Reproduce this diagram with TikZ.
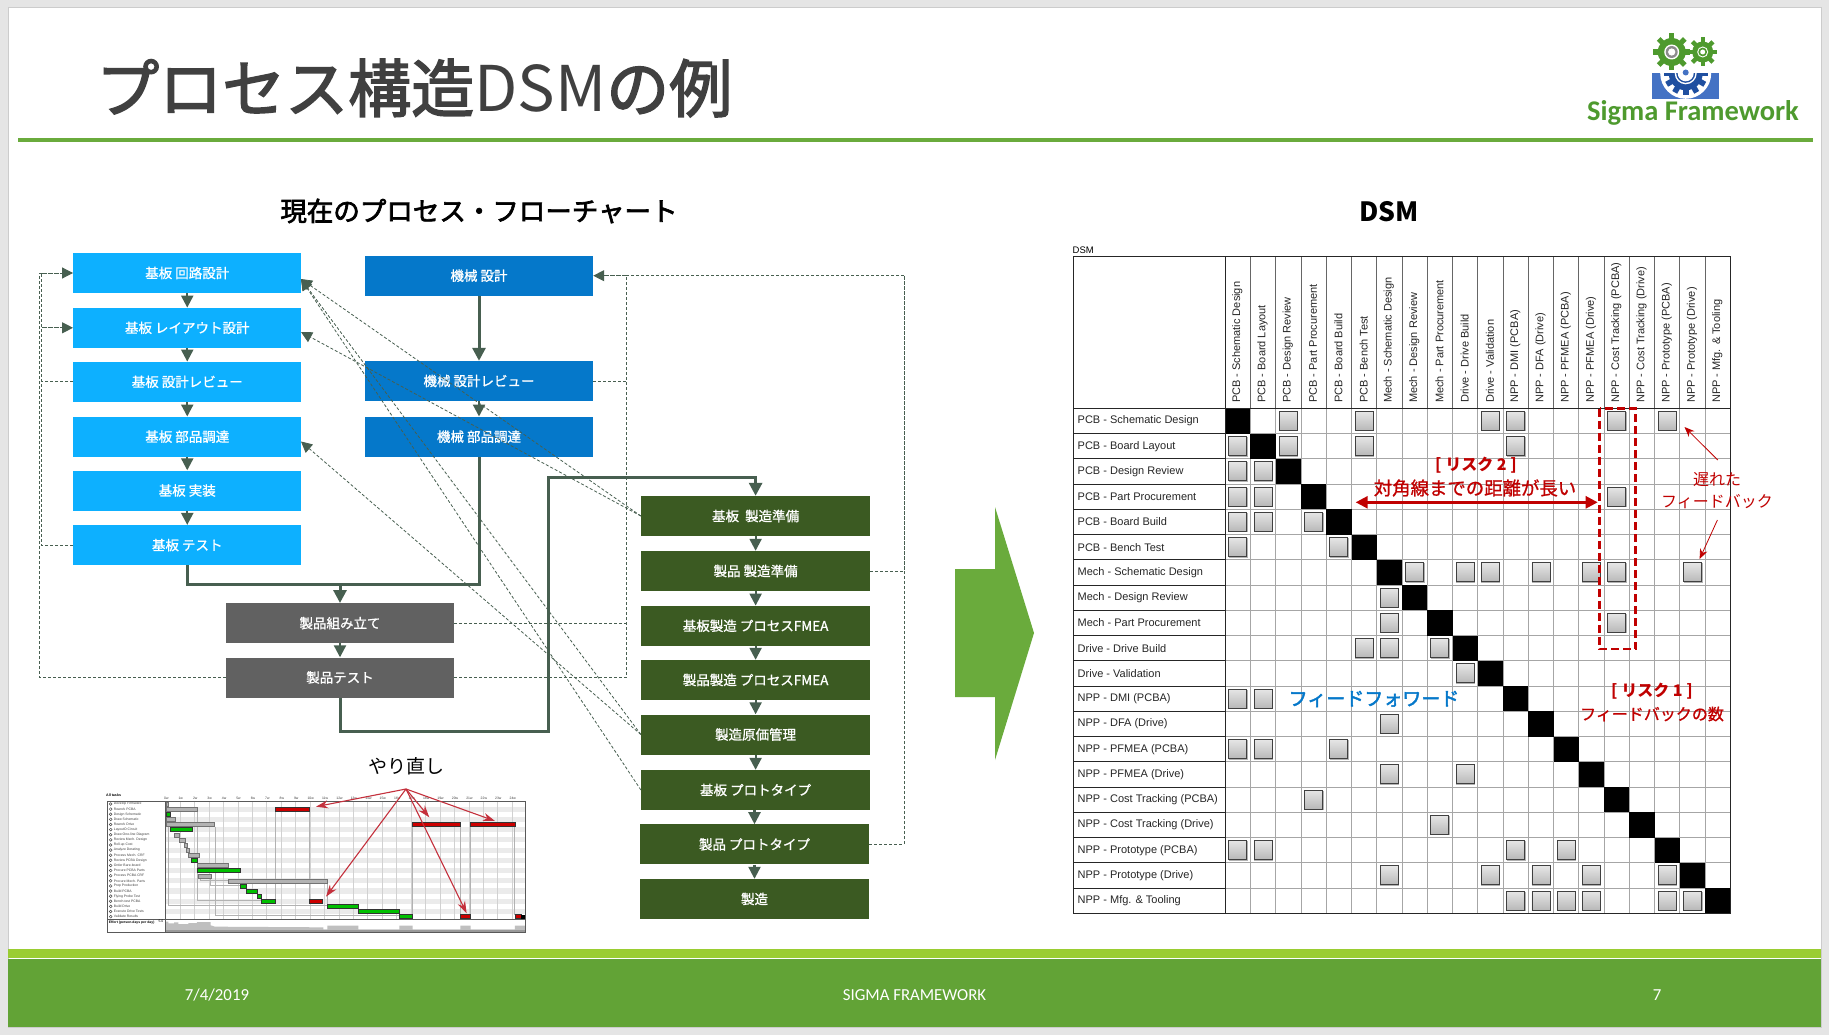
\documentclass[tikz,border=0pt]{standalone}
\usepackage{fontspec}
\setmainfont{Noto Sans CJK JP}
\newfontfamily\jpfb[FakeBold=2.5]{Noto Sans CJK JP}
\newfontfamily\jplb[FakeBold=1]{Noto Sans CJK JP}
\newfontfamily\lib{Liberation Sans}
\newfontfamily\car{Carlito}
\usetikzlibrary{arrows.meta,calc}
\definecolor{cPcb}{HTML}{0DB0FF}
\definecolor{cMech}{HTML}{0578CA}
\definecolor{cGray}{HTML}{616161}
\definecolor{cProd}{HTML}{3B5A22}
\definecolor{cConn}{HTML}{475F50}
\definecolor{cRed}{HTML}{C00000}
\definecolor{cRep}{HTML}{C4303C}
\definecolor{cBar}{HTML}{62A336}
\definecolor{cLime}{HTML}{9ACD32}
\definecolor{cRule}{HTML}{6AAB3C}
\definecolor{cLogo}{HTML}{4E9A2E}
\definecolor{cLogoB}{HTML}{4472C4}
\definecolor{cLogoD}{HTML}{1F4FA0}
\tikzset{
 flowbox/.style={rectangle,inner sep=0pt,minimum width=228pt,minimum height=40pt,text=white,font=\jplb\fontsize{13.5}{15}\selectfont},
 pcbbox/.style={flowbox,fill=cPcb},
 mechbox/.style={flowbox,fill=cMech},
 graybox/.style={flowbox,fill=cGray},
 prodbox/.style={flowbox,fill=cProd,minimum width=229pt},
 conn/.style={draw=cConn,line width=2.2pt,-{Triangle[length=12pt,width=12pt]}},
 thickline/.style={draw=cConn,line width=3pt},
 thickarrow/.style={draw=cConn,line width=3pt,-{Triangle[length=13pt,width=13pt]}},
 fb/.style={draw=cConn,line width=.8pt,dash pattern=on 3pt off 2pt},
 fbarrow/.style={fb,-{Triangle[length=11pt,width=11pt]}},
 fbhead/.style={draw=cConn,line width=1pt,dash pattern=on 5pt off 1pt,-{Triangle[length=11pt,width=11pt]}},
 rowlabel/.style={anchor=west,inner sep=0pt,font=\lib\fontsize{11}{12}\selectfont,text=black!85},
 collabel/.style={anchor=west,rotate=90,inner sep=0pt,font=\lib\fontsize{11}{12}\selectfont,text=black!85},
 redtext/.style={text=cRed,inner sep=0pt},
 redarrow/.style={draw=cRed,line width=.8pt,-{Stealth[length=10pt,width=8pt]}},
 redrep/.style={draw=cRep,line width=1.1pt,-{Stealth[length=12pt,width=8pt]}},
}
\newcommand{\mygear}[7]{%
 \fill[#7] (#1,#2) circle (#4pt);
 \foreach \a in {1,...,#6}{
  \fill[#7,shift={(#1,#2)},rotate=360*\a/#6] (-#5,0) rectangle (#5,#3);
 }}
\begin{document}
\begin{tikzpicture}[x=1pt,y=-1pt]
\useasboundingbox (0,0) rectangle (1829,1035);
\fill[black!10] (0,0) rectangle (1829,1035);
\fill[white,draw=black!20,line width=.8pt] (8,7) rectangle (1821,1027);
% footer
\fill[cLime] (8,949) rectangle (1821,958);
\fill[cBar] (8,959) rectangle (1821,1027);
\node[text=white,font=\car\fontsize{16.8}{18}\selectfont,inner sep=0pt] (fdate) at (217,995.5) {7/4/2019};
\node[text=white,font=\car\fontsize{16.8}{18}\selectfont,inner sep=0pt] (ftitle) at (914.5,995.5) {SIGMA FRAMEWORK};
\node[text=white,font=\car\fontsize{16.8}{18}\selectfont,inner sep=0pt] (fpage) at (1657,995.5) {7};
% title
\fill[cRule] (18,138.5) rectangle (1813,142.5);
\node[anchor=west,inner sep=0pt,text=black!75,font=\fontsize{63}{68}\selectfont] (title) at (96,88) {{\jpfb プロセス構造}DSM{\jpfb の例}};
% logo
\mygear{1671.7}{52}{18.5}{14}{2.6}{8}{cLogo}
\mygear{1702.7}{52}{14.5}{10.5}{2.2}{8}{cLogo}
\fill[white] (1671.7,52) circle (7.5pt); \fill[black!45] (1671.7,52) circle (6pt); \fill[white] (1671.7,52) circle (3.6pt);
\fill[white] (1702.7,52) circle (5.5pt); \fill[cLogo] (1702.7,52) circle (4.4pt); \fill[white] (1702.7,52) circle (2.5pt);
\fill[cLogoB] (1652.3,73.3) rectangle (1718.7,99.3);
\begin{scope}
 \clip (1652.3,73.3) rectangle (1718.7,99.3);
 \fill[white] (1685.7,73.3) circle (25.5pt);
 \mygear{1685.7}{73.3}{22}{17}{2.8}{12}{cLogoD}
 \fill[white] (1685.7,73.3) circle (11pt);
 \fill[cLogoD] (1685.7,73.3) circle (9.5pt);
 \fill[white] (1685.7,73.3) circle (8pt);
\end{scope}
\fill[cLogoB] (1685.7,72.5) circle (3pt);
\node[text=cLogo,font=\car\bfseries\fontsize{28.5}{30}\selectfont,inner sep=0pt] (logotext) at (1693,113) {Sigma Framework};
% headings
\node[inner sep=0pt,font=\jpfb\fontsize{26.5}{30}\selectfont] (h1) at (479,211) {現在のプロセス・フローチャート};
\node[inner sep=0pt,font=\bfseries\fontsize{26.5}{30}\selectfont] (h2) at (1389,212) {DSM};
% flow boxes
\node[pcbbox] (p1) at (187.25,273) {基板 回路設計};
\node[pcbbox] (p2) at (187.25,327.8) {基板 レイアウト設計};
\node[pcbbox] (p3) at (187.25,381.8) {基板 設計レビュー};
\node[pcbbox] (p4) at (187.25,436.7) {基板 部品調達};
\node[pcbbox] (p5) at (187.25,490.5) {基板 実装};
\node[pcbbox] (p6) at (187.25,545.1) {基板 テスト};
\node[mechbox] (m1) at (479,275.7) {機械 設計};
\node[mechbox] (m2) at (479,381) {機械 設計レビュー};
\node[mechbox] (m3) at (479,436.7) {機械 部品調達};
\node[graybox] (g1) at (340,623.2) {製品組み立て};
\node[graybox] (g2) at (340,677.5) {製品テスト};
\node[prodbox] (s1) at (755.6,516) {基板\ \ 製造準備};
\node[prodbox] (s2) at (755.6,571) {製品 製造準備};
\node[prodbox] (s3) at (755.6,625.8) {基板製造 プロセスFMEA};
\node[prodbox] (s4) at (755.6,680) {製品製造 プロセスFMEA};
\node[prodbox] (s5) at (755.6,734.5) {製造原価管理};
\node[prodbox] (s6) at (755.6,790) {基板 プロトタイプ};
\node[prodbox] (s7) at (754.5,844.4) {製品 プロトタイプ};
\node[prodbox] (s8) at (754.5,899) {製造};
% short flow arrows
\foreach \a/\b in {p1/p2,p2/p3,p3/p4,p4/p5,p5/p6,m2/m3,g1/g2,s1/s2,s2/s3,s3/s4,s4/s5,s5/s6}
 \draw[conn] (\a.south) -- (\b.north);
\draw[conn] (s6.south -| s7.north) -- (s7.north);
\draw[conn] (s7.south) -- (s8.north);
\draw[thickarrow] (m1.south) -- (m2.north);
\coordinate (merge) at (340,584);
\draw[thickline] (p6.south) |- (merge);
\draw[thickline] (m3.south) |- (merge);
\draw[thickarrow] (merge) -- (g1.north);
\coordinate (ra) at (548,731);
\coordinate (rb) at (548,477);
\draw[thickarrow] (g2.south) |- (ra) -- (rb) -| (s1.north);
% dashed feedback left
\coordinate (lout) at (39.5,273);
\coordinate (lin) at (41.5,273);
\coordinate (lmid) at (41.5,327.8);
\draw[fb] (g2.west) -| (lout) -- (lin);
\draw[fb] (p6.west) -| (lin);
\draw[fb] (p3.west) -- (p3.west -| lin);
\draw[fbhead] (lin) -- (p1.west);
\draw[fbhead] (lmid) -- (p2.west);
% dashed feedback right
\coordinate (rin) at (626.5,275.7);
\coordinate (rout) at (904,275.7);
\draw[fb] (g2.east) -| (rin);
\draw[fb] (g1.east) -- (g1.east -| rin);
\draw[fb] (m2.east) -- (m2.east -| rin);
\draw[fb] (s2.east) -| (rout);
\draw[fb] (s7.east) -| (rout);
\draw[fb] (rout) -- (rin);
\draw[fbhead] (rin) -- (m1.east);
% dashed diagonals
\coordinate (ia) at (301,279);
\coordinate (ib) at (301,332);
\coordinate (ic) at (301,441.5);
\draw[fbarrow] (s1.west) -- (ia);
\draw[fbarrow] (s5.west) -- (ia);
\draw[fbarrow] (s6.west) -- (ia);
\draw[fbarrow] (s1.west) -- (ib);
\draw[fbarrow] (s5.west) -- (ic);
% big arrow
\fill[cRule] (955,569) -- (995,569) -- (995,507) -- (1034,633) -- (995,760) -- (995,697) -- (955,697) -- cycle;
% rework label
\node[inner sep=0pt,font=\fontsize{19}{22}\selectfont] (rework) at (406.7,766.5) {やり直し};
% gantt
\begin{scope}[shift={(90,740)},x=0.33333pt,y=-0.33333pt]
 \node[anchor=west,inner sep=0pt,font=\lib\bfseries\fontsize{3.6}{4}\selectfont] (gall) at (48,165) {All tasks};
 \foreach \i in {1,3,...,21}
   \fill[black!8] (227,{192+15.36*\i-7.7}) rectangle (1305,{192+15.36*\i+7.7});
 \foreach \k in {0,...,24}{
   \draw[black!18,line width=.5pt] ({227+43.3*\k},185) -- ({227+43.3*\k},537);
   \node[inner sep=0pt,font=\lib\fontsize{3.4}{4}\selectfont,text=black!75] (gw\k) at ({229+43.3*\k},176) {\k w};
 }
 \foreach \n [count=\i from 0] in {Develop Firmware,Rework PCBA,Design Schematic,Draw Schematic,Rework Drive,LayoutO Circuit,Draw One-line Diagram,Review Mech. Design,Roll-up Cost,Analyze Derating,Process Mech. CRF,Review PCBA Design,Order Bare-board,Procure PCBA Parts,Process PCBA CRF,Procure Mech. Parts,Prep Production,Build PCBA,Flying Probe Test,Bench-test PCBA,Build Drive,Execute Drive Tests,Validate Results}{
   \draw[black!70,line width=.5pt] (62,{192+15.36*\i}) circle (1.4pt);
   \node[anchor=west,inner sep=0pt,font=\lib\fontsize{3.4}{4}\selectfont,text=black!75] (gt\i) at (71,{192+15.36*\i}) {\n};
 }
 % dependency lines
 \draw[black!30,line width=.35pt] (235,198) -- (235,495) -- (712,495)
   (322,215) -- (322,482) -- (514,482) (375,260) -- (375,527) -- (928,527)
   (556,208) -- (556,482) (658,208) -- (658,482) (712,430) -- (712,495)
   (968,258) -- (968,525) (1110,258) -- (1110,522) (1141,258) -- (1141,522) (1272,258) -- (1272,525)
   (362,415) -- (362,437) -- (450,437) (330,415) -- (330,422) -- (415,422)
   (805,500) -- (805,515) (928,515) -- (928,525);
 \foreach \r/\a/\b in {0/227/233,1/227/320,3/227/254,4/227/373,6/253/266,7/266/284,8/282/290,9/288/296,10/295/326,12/321/415,14/325/362,15/415/712}
   \fill[black!30,draw=black!55,line width=.3pt] (\a,{192+15.36*\r-6}) rectangle (\b,{192+15.36*\r+6});
 \foreach \r/\a/\b in {2/228/242,5/242/306,11/305/321,13/321/450,16/450/470,17/470/502,18/502/515,19/514/557,20/712/805,21/805/928,22/928/968}
   \fill[green!75!black,draw=black!80,line width=.5pt] (\a,{192+15.36*\r-6}) rectangle (\b,{192+15.36*\r+6});
 \foreach \r/\a/\b in {1/556/659,4/968/1112,4/1141/1275,19/658/698,22/1111/1142,22/1275/1294}
   \fill[red!80!black,draw=black!80,line width=.5pt] (\a,{192+15.36*\r-6}) rectangle (\b,{192+15.36*\r+6});
 \fill[black] (1294,524) rectangle (1305,536);
 % effort
 \fill[black!25] (227,578) -- (227,545) -- (235,545) -- (235,550) -- (252,550) -- (252,547) -- (265,547) -- (265,552) -- (295,552) -- (295,549) -- (320,549) -- (322,546) -- (362,546) -- (362,556) -- (375,560) -- (700,562) -- (700,568) -- (712,568) -- (712,557) -- (805,557) -- (805,568) -- (928,568) -- (928,557) -- (968,557) -- (968,568) -- (1111,568) -- (1111,557) -- (1142,557) -- (1142,568) -- (1275,568) -- (1275,557) -- (1305,557) -- (1305,578) -- cycle;
 \fill[black!40] (227,570) rectangle (1305,578);
 \draw[black!65,line width=.7pt] (52,185) rectangle (1307,578);
 \draw[black!65,line width=.7pt] (52,537) -- (1307,537) (226,185) -- (226,578);
 \node[anchor=west,inner sep=0pt,font=\lib\bfseries\fontsize{3.4}{4}\selectfont] (geff) at (56,547) {Effort (person-days per day)};
 \node[anchor=west,inner sep=0pt,font=\lib\fontsize{3.4}{4}\selectfont] (gfive) at (205,545) {5.0};
 % rework arrows
 \coordinate (rw) at (948,147);
 \draw[redrep] (rw) -- (678,200);
 \draw[redrep] (rw) -- (708,470);
 \draw[redrep] (rw) -- (1018,232);
 \draw[redrep] (rw) -- (1130,520);
 \draw[redrep] (rw) -- (1215,243);
\end{scope}
% DSM
\def\gx{1225.2}\def\gy{408.3}\def\gs{25.26}\def\gh{25.25}
\node[anchor=west,inner sep=0pt,font=\lib\fontsize{9.5}{10}\selectfont] (dsmlabel) at (1072.5,250) {DSM};
\foreach \i in {1,...,19}{
  \draw[black!35,line width=.9pt] ({\gx+\gs*\i},{\gy}) -- ({\gx+\gs*\i},913.3);
  \draw[black!35,line width=.9pt] ({\gx},{\gy+\gh*\i}) -- (1730.4,{\gy+\gh*\i});
  \draw[black!60,line width=.8pt] ({\gx+\gs*\i},256.7) -- ({\gx+\gs*\i},{\gy});
  \draw[black!85,line width=.9pt] (1073.4,{\gy+\gh*\i}) -- ({\gx},{\gy+\gh*\i});
}
\foreach \i in {1,...,20}
  \fill[black] ({\gx+\gs*(\i-1)},{\gy+\gh*(\i-1)}) rectangle ({\gx+\gs*\i},{\gy+\gh*\i});
\draw[black!85,line width=1.2pt] (1073.4,256.7) rectangle (1730.4,913.3);
\draw[black!85,line width=1.2pt] (1073.4,\gy) -- (1730.4,\gy) (\gx,256.7) -- (\gx,913.3);
\foreach \n [count=\i] in {{PCB - Schematic Design},{PCB - Board Layout},{PCB - Design Review},{PCB - Part Procurement},{PCB - Board Build},{PCB - Bench Test},{Mech - Schematic  Design},{Mech - Design Review},{Mech - Part Procurement},{Drive - Drive Build},{Drive - Validation},{NPP - DMI (PCBA)},{NPP - DFA (Drive)},{NPP - PFMEA (PCBA)},{NPP - PFMEA (Drive)},{NPP - Cost Tracking (PCBA)},{NPP - Cost Tracking (Drive)},{NPP - Prototype (PCBA)},{NPP - Prototype (Drive)},{NPP - Mfg. \& Tooling}}{
  \node[rowlabel] (rl\i) at (1077.5,{\gy+\gh*(\i-.5)}) {\n};
  \node[collabel] (cl\i) at ({\gx+\gs*(\i-.5)-.5},403) {\n};
}
\foreach \r/\c in {1/3,1/6,1/11,1/12,1/16,1/18,2/1,2/3,2/6,2/12,3/1,3/2,4/1,4/2,4/16,5/1,5/2,5/4,6/1,6/5,7/8,7/10,7/11,7/13,7/15,7/16,7/19,8/7,9/7,9/16,10/6,10/7,10/9,11/10,12/1,12/2,13/7,14/1,14/2,14/5,15/7,15/10,16/4,17/9,18/1,18/2,18/12,18/14,19/7,19/11,19/13,19/15,19/18,20/12,20/13,20/14,20/15,20/18,20/19}{
  \pgfmathsetmacro{\cxx}{\gx+\gs*(\c-.5)}
  \pgfmathsetmacro{\cyy}{\gy+\gh*(\r-.5)}
  \fill[white] (\cxx-11,\cyy-11) rectangle (\cxx+11,\cyy+11);
  \fill[black!30] (\cxx-9,\cyy-9) rectangle (\cxx+10,\cyy+10.5);
  \shade[top color=black!10,bottom color=black!28,draw=black!75,line width=.9pt] (\cxx-9,\cyy-9.5) rectangle (\cxx+9,\cyy+9.5);
}
% annotations
\draw[cRed,line width=2.5pt,dash pattern=on 8pt off 4pt] (1599.5,408.5) rectangle (1635.5,649);
\node[redtext,font=\bfseries\fontsize{16}{18}\selectfont] (risk2) at (1476,465) {[ リスク 2 ]};
\node[redtext,font=\jplb\fontsize{18.4}{20}\selectfont] (dist) at (1475,488) {対角線までの距離が長い};
\coordinate (da) at (1355.7,502.3);
\coordinate (db) at (1597.7,502.3);
\draw[draw=cRed,line width=2.5pt,{Triangle[length=12pt,width=12pt]}-{Triangle[length=12pt,width=12pt]}] (da) -- (db);
\node[redtext,font=\fontsize{16}{18}\selectfont] (late1) at (1717,480) {遅れた};
\node[redtext,font=\fontsize{16}{18}\selectfont] (late2) at (1717,502) {フィードバック};
\coordinate (fa) at (1684.5,427);
\coordinate (fb1) at (1699.6,559);
\coordinate (la) at (1717.8,460);
\coordinate (lb) at (1717.4,520);
\draw[redarrow] (la) -- (fa);
\draw[redarrow] (lb) -- (fb1);
\node[redtext,font=\bfseries\fontsize{16}{18}\selectfont] (risk1) at (1652,691) {[ リスク 1 ]};
\node[redtext,font=\jplb\fontsize{16}{18}\selectfont] (fbn) at (1652,714) {フィードバックの数};
\node[text=cMech,inner sep=0pt,font=\jpfb\fontsize{19}{22}\selectfont] (ff) at (1374,699) {フィードフォワード};
\end{tikzpicture}
\end{document}
